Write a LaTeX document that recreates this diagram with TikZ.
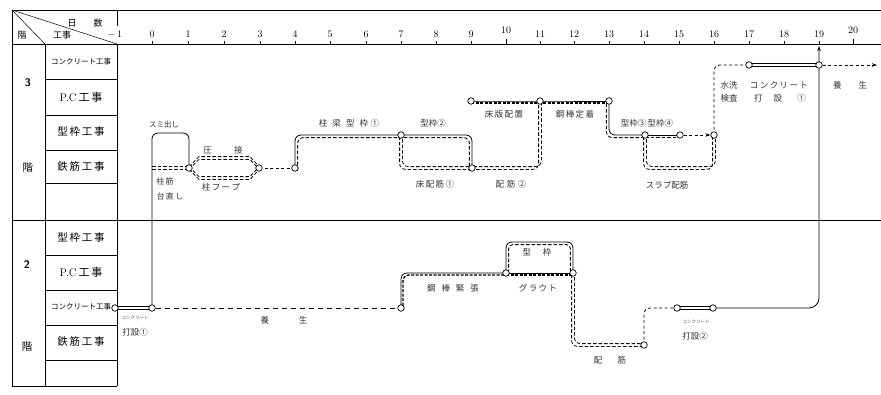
\documentclass[tikz,border=0pt]{standalone}
\usepackage{fontspec}
\newfontfamily\cjk{Noto Sans CJK JP}
\usetikzlibrary{arrows.meta,backgrounds}
\newcommand\dblpath[4]{%
  \draw[#1,transform canvas={xshift=#2,yshift=#3}] #4;
  \draw[#1,transform canvas={xshift=-#2,yshift=-#3}] #4;}
\begin{document}
\begin{tikzpicture}[x=1pt,y=-1pt,
  gridl/.style={line width=0.6pt},
  evt/.style={circle,draw,fill=white,inner sep=0pt,minimum size=6.5pt,line width=0.7pt},
  conc/.style={line width=0.75pt},
  rebar/.style={line width=0.8pt,dash pattern=on 3.5pt off 2pt},
  solidl/.style={line width=0.8pt},
  fdash/.style={line width=0.85pt,dash pattern=on 3.5pt off 2pt},
  pcdash/.style={line width=1.3pt,dash pattern=on 3pt off 1.5pt},
  dsh/.style={line width=0.8pt,dash pattern=on 3pt off 2.5pt},
  dshlong/.style={line width=0.8pt,dash pattern=on 5pt off 4pt},
  lbl/.style={font=\cjk\fontsize{8.5}{9}\selectfont,text=black!80,inner sep=0pt},
  tinylbl/.style={font=\cjk\fontsize{4.5}{5}\selectfont,text=black!70,inner sep=0pt},
  rowlbl/.style={font=\cjk\fontsize{10.5}{12}\selectfont,inner sep=0pt},
  smallrow/.style={font=\cjk\fontsize{7.5}{8}\selectfont,inner sep=0pt},
  numl/.style={font=\fontsize{10}{12}\selectfont,inner sep=0pt},
  rc/.style={rounded corners=6pt}
]
\useasboundingbox (0,0) rectangle (881,394);

% ---------- frame ----------
\draw[gridl] (12,10) -- (881,10);
\draw[gridl] (12,44) -- (881,44);
\draw[gridl] (12,220) -- (881,220);
\draw[gridl] (12,10) -- (12,386);
\draw[gridl] (45,44) -- (45,386);
\draw[gridl] (117,10) -- (117,26);
\draw[gridl] (117,44) -- (117,386);
\draw[line width=0.4pt] (12,386) -- (117,386);
\draw[line width=0.5pt] (12,10) -- (45,44);
\draw[line width=0.5pt] (12,10) -- (117,44);
\foreach \yy in {79,115,150,183,255,290,325,360}
  \draw[gridl] (45,\yy) -- (117,\yy);

% ---------- header ----------
\node[font=\cjk\fontsize{9}{10}\selectfont,inner sep=0pt] at (72,23) {日};
\node[font=\cjk\fontsize{9}{10}\selectfont,inner sep=0pt] at (98,23) {数};
\node[font=\cjk\fontsize{9}{10}\selectfont,inner sep=0pt] at (22,35) {階};
\node[font=\cjk\fontsize{9}{10}\selectfont,inner sep=0pt] at (62,35) {工事};
\node[numl] at (115,35) {$-$\,1};
\foreach \d/\xx in {0/152,1/188,2/224,3/260,4/295,5/330,6/366,7/401,8/436,9/471,11/540,12/574,13/609,14/644,15/679,16/714,17/749,18/784,19/819}{
  \node[numl] at (\xx,34) {\d};
  \draw[line width=0.5pt] (\xx,44) -- (\xx,41);
}
\foreach \d/\xx in {10/506,20/853}{
  \node[numl] at (\xx,30) {\d};
  \draw[line width=0.5pt] (\xx,44) -- (\xx,39);
}

% ---------- row labels ----------
\node[font=\sffamily\bfseries\fontsize{11}{12}\selectfont] at (28,83) {3};
\node[rowlbl] at (28,168) {階};
\node[font=\sffamily\bfseries\fontsize{11}{12}\selectfont] at (27,265) {2};
\node[rowlbl] at (27,347) {階};
\node[smallrow] at (81,62) {コンクリート工事};
\node[rowlbl] at (81,97) {\fontsize{11}{12}\selectfont\rmfamily P.C\,\cjk 工\,事};
\node[rowlbl] at (81,132) {型\,枠\,工\,事};
\node[rowlbl] at (81,167) {鉄\,筋\,工\,事};
\node[rowlbl] at (81,238) {型\,枠\,工\,事};
\node[rowlbl] at (81,272) {\fontsize{11}{12}\selectfont\rmfamily P.C\,\cjk 工\,事};
\node[smallrow] at (81,307) {コンクリート工事};
\node[rowlbl] at (81,342) {鉄\,筋\,工\,事};

% ---------- event nodes 3F ----------
\coordinate (c0) at (152,168);
\node[evt] (a1) at (189,168) {};
\node[evt] (a2) at (259,168) {};
\node[evt] (a3) at (295,168) {};
\node[evt] (a4) at (401,135) {};
\node[evt] (a5) at (472,168) {};
\node[evt] (a7) at (471,101) {};
\node[evt] (a6) at (540,101) {};
\node[evt] (a8) at (609,101) {};
\node[evt] (a9) at (645,135) {};
\node[evt] (a10) at (680,135) {};
\node[evt] (a11) at (714,135) {};
\node[evt] (a12) at (749,65) {};
\node[evt] (a13) at (819,65) {};
\coordinate (arr) at (877,65);
% ---------- event nodes 2F ----------
\node[evt] (b0) at (115,308) {};
\node[evt] (b1) at (152,308) {};
\node[evt] (b2) at (401,308) {};
\node[evt] (b3) at (506,273) {};
\node[evt] (b4) at (573,273) {};
\node[evt] (b5) at (644,345) {};
\node[evt] (b6) at (677,308) {};
\node[evt] (b7) at (713,308) {};
\coordinate (top19) at (819,46);

\begin{scope}[on background layer]
% 3F
\draw[solidl,rc] (b1.center) -- (152,133) -| (a1.center);
\dblpath{rebar}{0pt}{1.4pt}{(c0) -- (a1.center)}
\dblpath{rebar}{0pt}{1.4pt}{(a1.center) -- (199,158) -- (250,158) -- (a2.center)}
\dblpath{rebar}{0pt}{1.4pt}{(a1.center) -- (199,178) -- (250,178) -- (a2.center)}
\draw[dsh] (a2.center) -- (a3.center);
\draw[solidl,rc] (a3.center) |- (a4.center);
\draw[fdash,rc,transform canvas={xshift=2.6pt,yshift=-2.6pt}] (a3.center) |- (a4.center);
\draw[solidl,rc] (a4.center) -| (a5.center);
\draw[fdash,rc,transform canvas={xshift=-2.6pt,yshift=-2.6pt}] (a4.center) -| (a5.center);
\dblpath{rebar,rc}{1.4pt}{1.4pt}{(a4.center) |- (a5.center)}
\dblpath{rebar,rc}{1.4pt}{1.4pt}{(a5.center) -| (a6.center)}
\draw[solidl] (a7.center) -- (a6.center) -- (a8.center);
\draw[pcdash,transform canvas={yshift=-2pt}] (a7.center) -- (a6.center) -- (a8.center);
\draw[solidl,rc] (a8.center) |- (a9.center);
\draw[fdash,rc,transform canvas={xshift=-2.6pt,yshift=-2.6pt}] (a8.center) |- (a9.center);
\draw[solidl] (a9.center) -- (a10.center);
\draw[fdash,transform canvas={yshift=-2.6pt}] (a9.center) -- (a10.center);
\draw[dsh,-{Stealth[length=5pt,width=3.5pt]}] (a10) -- (a11);
\dblpath{rebar,rc}{1.4pt}{1.4pt}{(a9.center) -- ++(0,33) -| (a11.center)}
\draw[dsh,rc] (a11.center) |- (a12.center);
\dblpath{conc}{0pt}{1.5pt}{(a12.center) -- (a13.center)}
\draw[dsh,-{Stealth[length=5pt,width=3.5pt]}] (a13) -- (arr);
% 2F
\dblpath{conc}{0pt}{1.5pt}{(b0.center) -- (b1.center)}
\draw[dshlong] (b1) -- (b2);
\draw[solidl,rc] (b2.center) |- (b3.center);
\draw[pcdash,rc,transform canvas={xshift=2pt,yshift=-2pt}] (b2.center) |- (b3.center);
\draw[solidl] (b3.center) -- (b4.center);
\draw[pcdash,transform canvas={yshift=-2pt}] (b3.center) -- (b4.center);
\draw[solidl,rc] (b3.center) -- ++(0,-31) -| (b4.center);
\draw[fdash,rounded corners=4pt] ([xshift=2.6pt]b3.center) -- ++(0,-28.4) -| ([xshift=-2.6pt]b4.center);
\dblpath{rebar,rc}{1.4pt}{1.4pt}{(b4.center) |- (b5.center)}
\draw[dsh,rc] (b5.center) |- (b6.center);
\dblpath{conc}{0pt}{1.5pt}{(b6.center) -- (b7.center)}
\draw[solidl,rounded corners=10pt,-{Stealth[length=5pt,width=3.5pt]}] (b7.center) -| (top19);
\end{scope}

% ---------- labels 3F ----------
\node[lbl,font=\cjk\fontsize{7.5}{8}\selectfont] at (164,125) {スミ出し};
\node[lbl] at (223,150) {圧\hspace{2.6em}接};
\node[lbl,font=\cjk\fontsize{8}{9}\selectfont] at (165,181) {柱\,筋};
\node[lbl,font=\cjk\fontsize{8}{9}\selectfont] at (170,196) {台\,直\,し};
\node[lbl] at (221,187) {柱\,フ\,ー\,プ};
\node[lbl] at (349,123) {柱\hspace{0.6em}梁\hspace{0.6em}型\hspace{0.6em}枠\hspace{0.3em}①};
\node[lbl] at (433,123) {型枠②};
\node[lbl] at (435,184) {床\,配\,筋\,①};
\node[lbl] at (511,184) {配\hspace{0.3em}筋\hspace{0.3em}②};
\node[lbl] at (504,114) {床\,版\,配\,置};
\node[lbl] at (575,114) {鋼\,棒\,定\,着};
\node[lbl] at (647,123) {型枠③\,型枠④};
\node[lbl] at (667,185) {スラブ配筋};
\node[lbl] at (729,85) {水洗};
\node[lbl] at (729,98) {検査};
\node[lbl] at (779,85) {コ\,ン\,ク\,リ\,ー\,ト};
\node[lbl] at (780,98) {打\hspace{1.3em}設\hspace{1.8em}①};
\node[lbl] at (850,85) {養\hspace{2em}生};
% ---------- labels 2F ----------
\node[tinylbl] at (135,318) {コンクリート};
\node[lbl] at (135,332) {打設①};
\node[lbl] at (284,320) {養\hspace{3.5em}生};
\node[lbl] at (453,288) {鋼\hspace{0.7em}棒\hspace{0.7em}緊\hspace{0.7em}張};
\node[lbl] at (538,288) {グ\,ラ\,ウ\,ト};
\node[lbl] at (537,252) {型\hspace{1.4em}枠};
\node[lbl] at (610,360) {配\hspace{1.8em}筋};
\node[tinylbl] at (696,322) {コンクリート};
\node[lbl] at (695,336) {打設②};
\end{tikzpicture}
\end{document}
